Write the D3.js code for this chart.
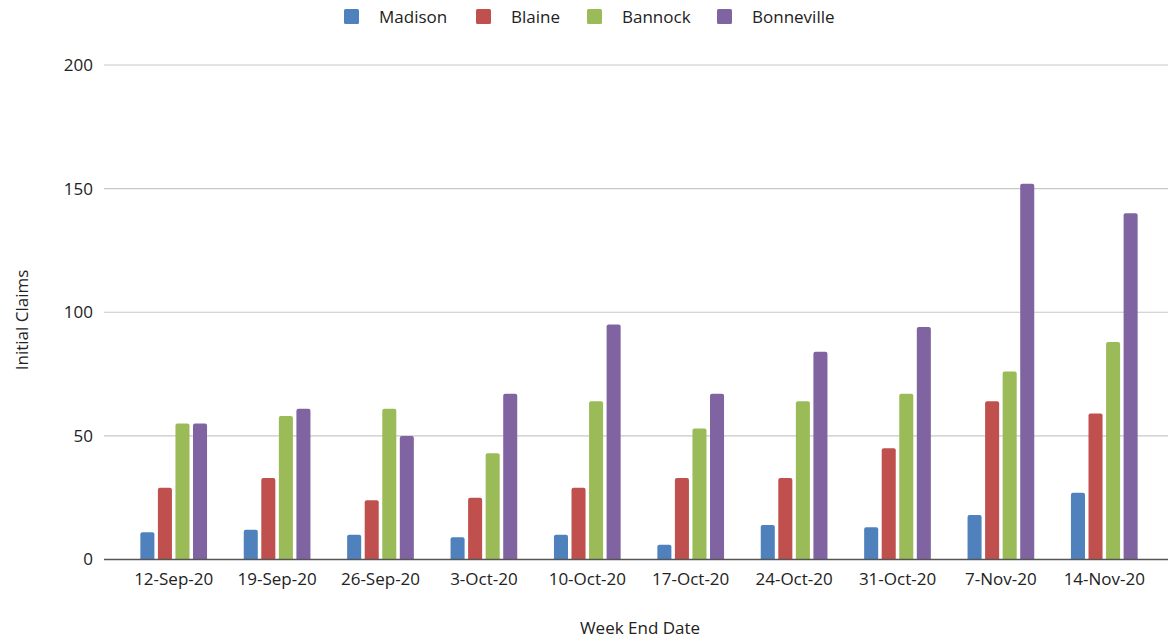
<!DOCTYPE html>
<meta charset="utf-8">
<style>
body { margin: 0; background: #fff; }
text { font-family: "Open Sans", sans-serif; fill: #222; }
.grid line { stroke: #c8c8c8; stroke-width: 1.2px; }
</style>
<svg width="1168" height="639"></svg>
<script src="https://d3js.org/d3.v7.min.js"></script>
<script>

var weeks = ["12-Sep-20", "19-Sep-20", "26-Sep-20", "3-Oct-20", "10-Oct-20",
             "17-Oct-20", "24-Oct-20", "31-Oct-20", "7-Nov-20", "14-Nov-20"];
var counties = ["Madison", "Blaine", "Bannock", "Bonneville"];
var madison    = [11, 12, 10, 9, 10, 6, 14, 13, 18, 27];
var blaine     = [29, 33, 24, 25, 29, 33, 33, 45, 64, 59];
var bannock    = [55, 58, 61, 43, 64, 53, 64, 67, 76, 88];
var bonneville = [55, 61, 50, 67, 95, 67, 84, 94, 152, 140];
var yTicks = [0, 50, 100, 150, 200];

var colors = ["#4F81BD", "#C0504D", "#9BBB59", "#8064A2"];
var series = [madison, blaine, bannock, bonneville];

var svg = d3.select("svg");

var x = d3.scaleBand().domain(weeks).range([122, 1156]);
var x1 = d3.scaleBand().domain(counties).range([0, 66.7]).paddingInner(0.2);
var y = d3.scaleLinear().domain([0, 200]).range([559.5, 65]);

// grid
svg.append("g").attr("class", "grid")
  .selectAll("line")
  .data(yTicks.slice(1))
  .enter().append("line")
    .attr("x1", 104).attr("x2", 1168)
    .attr("y1", function(d) { return y(d); })
    .attr("y2", function(d) { return y(d); });

svg.append("g")
  .selectAll("text")
  .data(yTicks)
  .enter().append("text")
    .attr("x", 93)
    .attr("y", function(d) { return y(d); })
    .attr("dy", "0.35em")
    .attr("text-anchor", "end")
    .style("font-size", "17px")
    .text(function(d) { return d; });

// bars
var groups = svg.append("g")
  .selectAll("g")
  .data(weeks)
  .enter().append("g")
    .attr("transform", function(d) { return "translate(" + (x(d) + x.bandwidth() / 2 - 33.35) + ",0)"; });

groups.selectAll("path")
  .data(function(w, i) { return counties.map(function(c, j) { return {c: c, v: series[j][i], j: j}; }); })
  .enter().append("path")
    .attr("fill", function(d) { return colors[d.j]; })
    .attr("d", function(d) {
      var x0 = x1(d.c), w = x1.bandwidth(), t = y(d.v), b = y(0), r = 2;
      return "M" + x0 + "," + b + "V" + (t + r) + "Q" + x0 + "," + t + " " + (x0 + r) + "," + t +
             "H" + (x0 + w - r) + "Q" + (x0 + w) + "," + t + " " + (x0 + w) + "," + (t + r) + "V" + b + "Z";
    });

// x axis
svg.append("line")
  .attr("x1", 104).attr("x2", 1168)
  .attr("y1", y(0)).attr("y2", y(0))
  .attr("stroke", "#555").attr("stroke-width", 1.5);

svg.append("g")
  .selectAll("text")
  .data(weeks)
  .enter().append("text")
    .attr("x", function(d) { return x(d) + x.bandwidth() / 2; })
    .attr("y", 585)
    .attr("text-anchor", "middle")
    .style("font-size", "17px")
    .text(function(d) { return d; });

svg.append("text")
  .attr("x", 640).attr("y", 634)
  .attr("text-anchor", "middle")
  .style("font-size", "17px")
  .text("Week End Date");

svg.append("text")
  .attr("transform", "translate(28,320) rotate(-90)")
  .attr("text-anchor", "middle")
  .style("font-size", "17px")
  .text("Initial Claims");

// legend
var legendX = [344, 476, 587, 717];
var legend = svg.append("g")
  .selectAll("g")
  .data(counties)
  .enter().append("g")
    .attr("transform", function(d, i) { return "translate(" + legendX[i] + ",9)"; });

legend.append("rect")
  .attr("width", 15).attr("height", 15).attr("rx", 1.5)
  .attr("fill", function(d, i) { return colors[i]; });

legend.append("text")
  .attr("x", 35).attr("y", 8).attr("dy", "0.35em")
  .style("font-size", "17px")
  .text(function(d) { return d; });

</script>
